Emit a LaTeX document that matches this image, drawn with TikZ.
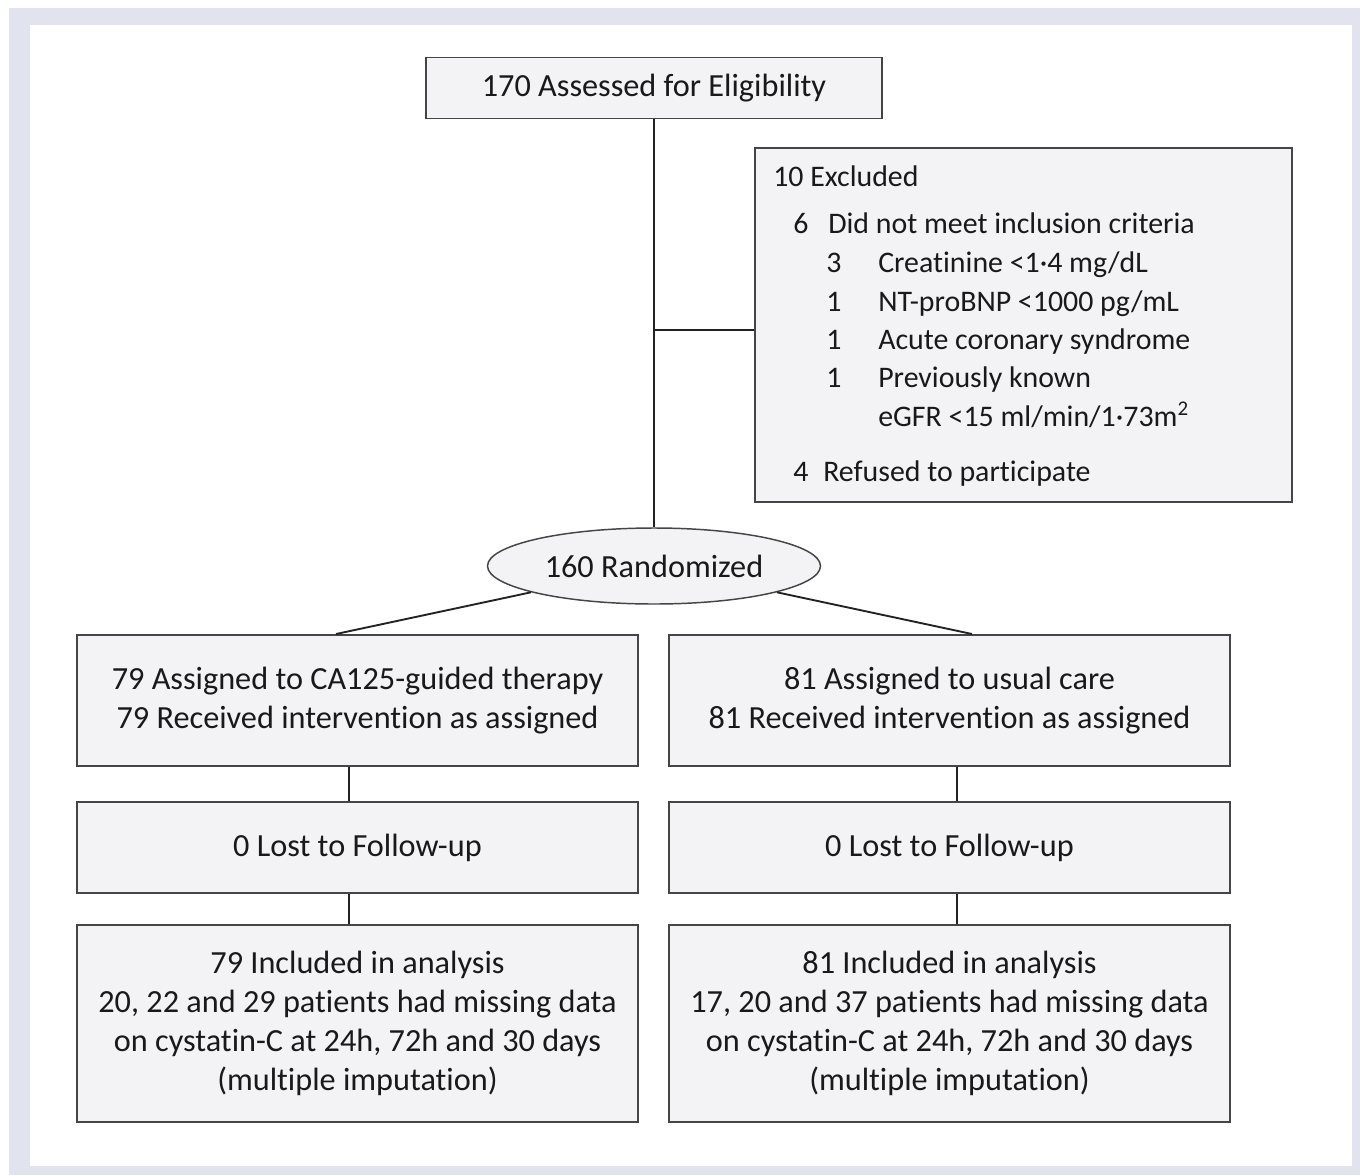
\documentclass[tikz,border=0pt]{standalone}
\usepackage{fontspec}
\setmainfont{Carlito}[Ligatures=NoCommon]
\usetikzlibrary{shapes.geometric}
\definecolor{framecol}{HTML}{E1E4EF}
\definecolor{boxfill}{HTML}{F3F3F5}
\definecolor{boxline}{HTML}{454545}
\definecolor{linecol}{HTML}{222222}
\begin{document}
\begin{tikzpicture}[x=0.75pt,y=-0.75pt,
  every node/.style={font=\fontsize{24.2}{29.1}\selectfont, text=black!90},
  box/.style={draw=boxline, fill=boxfill, line width=1.1pt, rectangle, inner sep=0pt, align=center},
  conn/.style={draw=linecol, line width=1.4pt},
  lbl/.style={anchor=base west, inner sep=0pt, font=\fontsize{22.4}{27}\selectfont}]
\useasboundingbox (0,0) rectangle (1360,1175);
\fill[framecol] (9,8) rectangle (1360,1175);
\fill[white] (30,25) rectangle (1352,1166);

\node[box, minimum width=342pt, minimum height=45.75pt] (top) at (654,88) {170 Assessed for Eligibility};
\node[box, minimum width=402.75pt, minimum height=265.5pt] (excl) at (1023.5,325) {};
\node[ellipse, draw=boxline, fill=boxfill, line width=1.1pt, inner sep=0pt, minimum width=249.75pt, minimum height=57pt] (rand) at (654,566) {160 Randomized};

\node[box, minimum width=420.75pt, minimum height=98.25pt] (L1) at (357.5,700.5) {79 Assigned to CA125-guided therapy\\79 Received intervention as assigned};
\node[box, minimum width=420.75pt, minimum height=98.25pt] (R1) at (949.5,700.5) {81 Assigned to usual care\\81 Received intervention as assigned};
\node[box, minimum width=420.75pt, minimum height=68.25pt] (L2) at (357.5,847.5) {0 Lost to Follow-up};
\node[box, minimum width=420.75pt, minimum height=68.25pt] (R2) at (949.5,847.5) {0 Lost to Follow-up};
\node[box, minimum width=420.75pt, minimum height=147.75pt] (L3) at (357.5,1023.5) {79 Included in analysis\\20, 22 and 29 patients had missing data\\on cystatin-C at 24h, 72h and 30 days\\(multiple imputation)};
\node[box, minimum width=420.75pt, minimum height=147.75pt] (R3) at (949.5,1023.5) {81 Included in analysis\\17, 20 and 37 patients had missing data\\on cystatin-C at 24h, 72h and 30 days\\(multiple imputation)};

% excluded texts
\node[lbl] (e0) at (773,186) {10 Excluded};
\node[lbl] (e1n) at (793,233) {6};
\node[lbl] (e1) at (828,233) {Did not meet inclusion criteria};
\node[lbl] (e2n) at (826,272) {3};
\node[lbl] (e2) at (878,272) {Creatinine <1·4 mg/dL};
\node[lbl] (e3n) at (826,311) {1};
\node[lbl] (e3) at (878,311) {NT-proBNP <1000 pg/mL};
\node[lbl] (e4n) at (826,349) {1};
\node[lbl] (e4) at (878,349) {Acute coronary syndrome};
\node[lbl] (e5n) at (826,387) {1};
\node[lbl] (e5) at (878,387) {Previously known};
\node[lbl] (e6) at (878,426) {eGFR <15 ml/min/1·73m\textsuperscript{2}};
\node[lbl] (e7n) at (793,481) {4};
\node[lbl] (e7) at (823,481) {Refused to participate};

% connectors
\draw[conn] (top.south) -- (rand.north);
\coordinate (br) at (654,330);
\draw[conn] (br) -- (br -| excl.west);
\coordinate (lt) at (336,634);
\coordinate (rt) at (972,634);
\draw[conn] (rand) -- (lt);
\draw[conn] (rand) -- (rt);
\coordinate (cl) at (349,0);
\coordinate (cr) at (957,0);
\draw[conn] (cl |- L1.south) -- (cl |- L2.north);
\draw[conn] (cl |- L2.south) -- (cl |- L3.north);
\draw[conn] (cr |- R1.south) -- (cr |- R2.north);
\draw[conn] (cr |- R2.south) -- (cr |- R3.north);
\end{tikzpicture}
\end{document}
